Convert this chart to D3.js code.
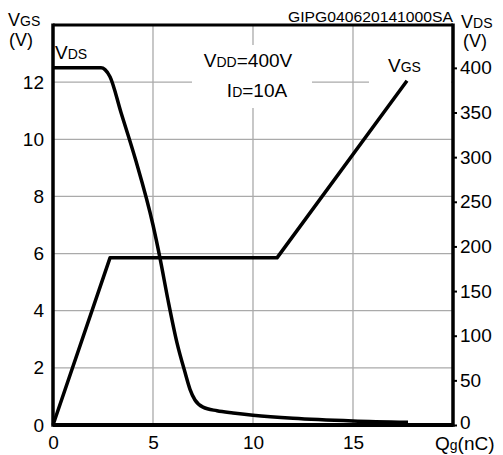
<!DOCTYPE html>
<html>
<head>
<meta charset="utf-8">
<script src="https://cdn.jsdelivr.net/npm/d3@7"></script>
<style>
  body { margin: 0; background: #fff; }
  svg { font-family: "Liberation Sans", Arial, sans-serif; }
</style>
</head>
<body>
<svg id="chart"></svg>
<script>
// gate charge curves
const qgTicks = [0, 5, 10, 15];
const vgsTicks = [0, 2, 4, 6, 8, 10, 12];
const vdsTicks = [0, 50, 100, 150, 200, 250, 300, 350, 400];

const vgsQ = [0, 2.85, 11.2, 17.7];
const vgsV = [0, 5.85, 5.85, 12.05];

const vdsQ = [0, 2.4, 2.6, 2.85, 3.4, 4.13, 5.0, 5.35, 5.75, 6.2, 6.6, 6.85, 7.1, 7.5, 8.2, 9, 10, 12, 15, 17.75];
const vdsV = [400, 400, 398, 390, 350, 297, 224, 187, 140, 92, 59, 40, 28, 20, 16, 13.5, 11, 7.5, 4.5, 3];

const svgWidth = 503, svgHeight = 455;
const pLeft = 53, pRight = 453, pTop = 25, pBottom = 425;

const svg = d3.select('#chart')
  .attr('width', svgWidth)
  .attr('height', svgHeight);

const x = d3.scaleLinear().domain([0, 20]).range([pLeft, pRight]);
const yL = d3.scaleLinear().domain([0, 14]).range([pBottom, pTop]);
const yR = d3.scaleLinear().domain([0, 448]).range([pBottom, pTop]);

// grid
svg.append('g')
  .selectAll('line')
  .data(vgsTicks.filter(d => d > 0))
  .enter()
  .append('line')
  .attr('x1', pLeft).attr('x2', pRight)
  .attr('y1', d => yL(d)).attr('y2', d => yL(d))
  .attr('stroke', '#aaa').attr('stroke-width', 1.3);

svg.append('g')
  .selectAll('line')
  .data(qgTicks.filter(d => d > 0))
  .enter()
  .append('line')
  .attr('x1', d => x(d)).attr('x2', d => x(d))
  .attr('y1', pTop).attr('y2', pBottom)
  .attr('stroke', '#aaa').attr('stroke-width', 1.3);

// white boxes behind the in-plot notes
svg.append('rect').attr('x', 192).attr('y', 45).attr('width', 120).attr('height', 63).attr('fill', '#fff');
svg.append('rect').attr('x', 369).attr('y', 52).attr('width', 82).attr('height', 38).attr('fill', '#fff');

// axes
const axisL = svg.append('g').attr('transform', `translate(${pLeft},0)`)
  .call(d3.axisLeft(yL).tickValues(vgsTicks).tickSize(0).tickPadding(9));
const axisB = svg.append('g').attr('transform', `translate(0,${pBottom})`)
  .call(d3.axisBottom(x).tickValues(qgTicks).tickSize(0).tickPadding(8));
const axisR = svg.append('g').attr('transform', `translate(${pRight},0)`)
  .call(d3.axisRight(yR).tickValues(vdsTicks).tickSize(4).tickPadding(3));

[axisL, axisB, axisR].forEach(a => {
  a.select('.domain').remove();
  a.selectAll('text').attr('font-size', 19).attr('fill', '#000')
    .attr('font-family', '"Liberation Sans", Arial, sans-serif');
  a.selectAll('line').attr('stroke', '#000').attr('stroke-width', 2);
});
axisB.selectAll('text').attr('dy', '0.85em');
axisR.selectAll('text').filter(d => d === 0).attr('dy', '0.2em');

// frame
svg.append('line').attr('x1', pLeft).attr('x2', pLeft).attr('y1', pTop - 1.5).attr('y2', pBottom + 1.75)
  .attr('stroke', '#000').attr('stroke-width', 3.5);
svg.append('line').attr('x1', pRight).attr('x2', pRight).attr('y1', pTop - 1.5).attr('y2', pBottom + 1.75)
  .attr('stroke', '#000').attr('stroke-width', 3.5);
svg.append('line').attr('x1', pLeft).attr('x2', pRight).attr('y1', pTop).attr('y2', pTop)
  .attr('stroke', '#000').attr('stroke-width', 3);
svg.append('line').attr('x1', pLeft).attr('x2', pRight).attr('y1', pBottom).attr('y2', pBottom)
  .attr('stroke', '#000').attr('stroke-width', 4);

// curves
const vgsLine = d3.line()
  .x((d, i) => x(vgsQ[i]))
  .y(d => yL(d));

svg.append('path')
  .datum(vgsV)
  .attr('d', vgsLine)
  .attr('fill', 'none').attr('stroke', '#000').attr('stroke-width', 3.5)
  .attr('stroke-linejoin', 'round');

const vdsLine = d3.line()
  .x((d, i) => x(vdsQ[i]))
  .y(d => yR(d))
  .curve(d3.curveMonotoneX);

svg.append('path')
  .datum(vdsV)
  .attr('d', vdsLine)
  .attr('fill', 'none').attr('stroke', '#000').attr('stroke-width', 3.5)
  .attr('stroke-linejoin', 'round');

// labels with subscripts
const label = (px, py, parts, anchor) => {
  const t = svg.append('text').attr('x', px).attr('y', py)
    .attr('text-anchor', anchor || 'start').attr('fill', '#000');
  parts.forEach(p => t.append('tspan').attr('font-size', p[1]).text(p[0]));
  return t;
};

label(8, 26, [['V', 18], ['GS', 14]]);
label(9, 46, [['(V)', 18]]);
label(461, 28, [['V', 18], ['DS', 14]]);
label(463, 47, [['(V)', 18]]);
label(55, 59, [['V', 19], ['DS', 14]]);
label(388, 72, [['V', 19], ['GS', 14]]);
label(248, 67, [['V', 19], ['DD', 14], ['=400V', 19]], 'middle');
label(257, 97, [['I', 19], ['D', 14], ['=10A', 19]], 'middle');
label(435, 450, [['Q', 19], ['g', 14], ['(nC)', 19]]);

svg.append('text')
  .attr('x', 453).attr('y', 22)
  .attr('text-anchor', 'end')
  .attr('font-size', 14)
  .attr('textLength', 165)
  .attr('lengthAdjust', 'spacingAndGlyphs')
  .text('GIPG040620141000SA');
</script>
</body>
</html>
